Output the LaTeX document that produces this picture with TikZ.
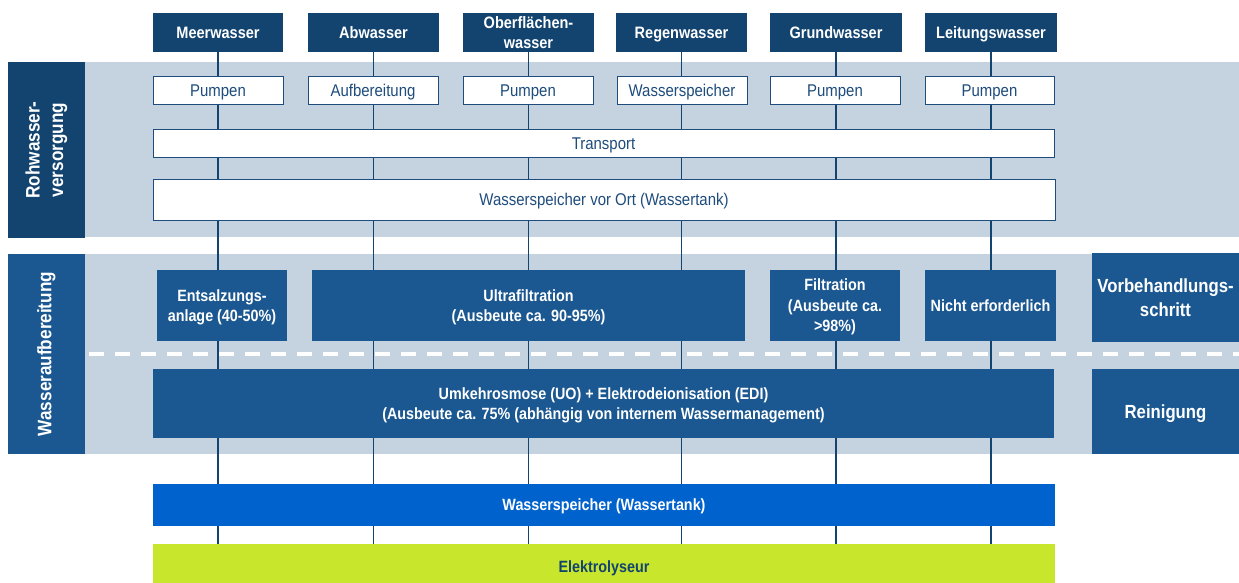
\documentclass[tikz,border=0pt]{standalone}
\usepackage{fontspec}
\setmainfont{Liberation Sans}[FakeStretch=0.88]

\definecolor{navy}{HTML}{134470}
\definecolor{midblue}{HTML}{1B5891}
\definecolor{bandgray}{HTML}{C5D2DF}
\definecolor{tankblue}{HTML}{0062CC}
\definecolor{limegreen}{HTML}{C8E62B}
\definecolor{inkblue}{HTML}{1E4C7C}

\pgfdeclarelayer{bands}
\pgfdeclarelayer{pipes}
\pgfsetlayers{bands,pipes,main}

\tikzset{
  box/.style={inner sep=0pt, outer sep=0pt, anchor=north west, align=center},
  capline/.style={text height=#1, text depth=0pt},
  lines/.style={text depth=0pt},
  source/.style={box, fill=navy, text=white, font=\bfseries\fontsize{16.5}{20}\selectfont},
  stage/.style={box, fill=white, draw=inkblue, line width=0.9pt, text=inkblue,
    font=\fontsize{17}{20}\selectfont, capline=12.2pt},
  process/.style={box, fill=midblue, text=white, font=\bfseries\fontsize{16.3}{20.5}\selectfont},
  phase/.style={box, fill=midblue, text=white, font=\bfseries\fontsize{19}{24.5}\selectfont},
  sidelabel/.style={inner sep=0pt, outer sep=0pt, align=center, rotate=90, text=white,
    font=\bfseries\fontsize{19.5}{23.5}\selectfont},
  band/.style={fill=bandgray},
  pipe/.style={draw=navy, line width=1.5pt},
  separator/.style={draw=white, line width=4pt, dash pattern=on 15pt off 11pt}
}

\begin{document}
\begin{tikzpicture}[x=1pt, y=-1pt]
\useasboundingbox (0,0) rectangle (1239,583);
\clip (0,0) rectangle (1239,583);

% water sources
\node[source, capline=11.8pt, minimum width=130, minimum height=39] (hmeer)  at (153,13) {Meerwasser};
\node[source, capline=11.8pt, minimum width=131, minimum height=39] (hab)    at (308,13) {Abwasser};
\node[source, lines, minimum width=131, minimum height=39] (hober)  at (463,13) {Oberflächen-\\wasser};
\node[source, capline=11.8pt, minimum width=131, minimum height=39] (hregen) at (616,13) {Regenwasser};
\node[source, capline=11.8pt, minimum width=132, minimum height=39] (hgrund) at (770,13) {Grundwasser};
\node[source, capline=11.8pt, minimum width=132, minimum height=39] (hleit)  at (925,13) {Leitungswasser};

% raw water supply
\node[stage, minimum width=130, minimum height=28] (pmeer)  at (153,76) {Pumpen};
\node[stage, minimum width=130, minimum height=28] (pab)    at (308,76) {Aufbereitung};
\node[stage, minimum width=130, minimum height=28] (pober)  at (463,76) {Pumpen};
\node[stage, minimum width=130, minimum height=28] (pregen) at (617,76) {Wasserspeicher};
\node[stage, minimum width=130, minimum height=28] (pgrund) at (770,76) {Pumpen};
\node[stage, minimum width=129, minimum height=28] (pleit)  at (925,76) {Pumpen};
\node[stage, minimum width=901, minimum height=28] (trans)  at (153,129) {Transport};
\node[stage, minimum width=902, minimum height=41] (vorort) at (153,179) {Wasserspeicher vor Ort (Wassertank)};

% water treatment
\node[process, lines, minimum width=130, minimum height=71] (ent)   at (157,270) {Entsalzungs-\\anlage (40-50\%)};
\node[process, lines, minimum width=433, minimum height=71] (ultra) at (312,270) {Ultrafiltration\\(Ausbeute ca. 90-95\%)};
\node[process, lines, minimum width=130, minimum height=71] (filt)  at (770,270) {Filtration\\(Ausbeute ca.\\>98\%)};
\node[process, capline=11.7pt, minimum width=131, minimum height=71] (nicht) at (925,270) {Nicht erforderlich};
\node[process, lines, minimum width=901, minimum height=69] (uo)    at (153,369) {Umkehrosmose (UO) + Elektrodeionisation (EDI)\\(Ausbeute ca. 75\% (abhängig von internem Wassermanagement)};

% phase labels on the right
\node[phase, minimum width=147, minimum height=89] (vorb) at (1092,253) {Vorbehandlungs-\\schritt};
\node[phase, capline=13.6pt, minimum width=147, minimum height=85] (rein) at (1092,369) {Reinigung};

% storage and electrolyser
\node[process, capline=11.7pt, fill=tankblue, minimum width=902, minimum height=42] (tank) at (153,484) {Wasserspeicher (Wassertank)};
\node[process, capline=11.7pt, fill=limegreen, text=navy, minimum width=902, minimum height=45] (elek) at (153,544) {Elektrolyseur};

% section labels on the left
\node[box, fill=navy, minimum width=77, minimum height=176] (lab1) at (8,62) {};
\node[sidelabel] at (lab1.center) {Rohwasser-\\versorgung};
\node[box, fill=midblue, minimum width=77, minimum height=200] (lab2) at (8,254) {};
\node[sidelabel] at (lab2.center) {Wasseraufbereitung};

% background bands
\begin{pgfonlayer}{bands}
  \fill[band] (85,62) rectangle (1239,237);
  \fill[band] (85,254) rectangle (1239,454);
\end{pgfonlayer}

% vertical supply lines and the dashed separator
\begin{pgfonlayer}{pipes}
  \foreach \h in {hmeer,hab,hober,hregen,hgrund,hleit}
    \draw[pipe] (\h.south) -- (elek.north -| \h.south);
  \draw[separator] (89,354) -- (1239,354);
\end{pgfonlayer}
\end{tikzpicture}
\end{document}
